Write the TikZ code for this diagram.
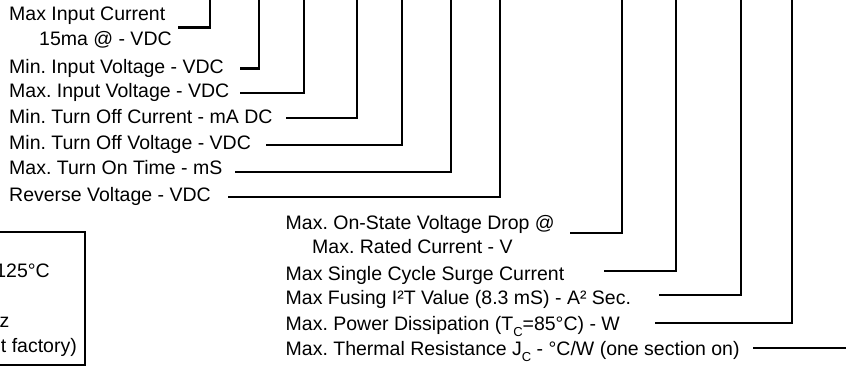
\documentclass[tikz,border=0pt]{standalone}
\usepackage{fontspec}
\setmainfont{Liberation Sans}
\frenchspacing
\newcommand\lowsub[1]{\raisebox{-6pt}{\fontsize{13}{13}\selectfont #1}}
\begin{document}
\begin{tikzpicture}[x=1pt,y=-1pt,
  lbl/.style={anchor=base west, inner sep=0pt, text=black, font=\fontsize{19.5}{19.5}\selectfont\frenchspacing},
  lead/.style={line width=2.7pt, draw=black},
  boxstyle/.style={draw=black, line width=2.2pt, inner sep=0pt}]
\useasboundingbox (0,0) rectangle (846,366);
\clip (0,0) rectangle (846,366);
% left labels
\node[lbl] (l1) at (9,20.7) {Max Input Current};
\node[lbl] (l1b) at (39,46) {15ma @ - VDC};
\node[lbl] (l2) at (9,73.3) {Min. Input Voltage - VDC};
\node[lbl] (l3) at (9,97.7) {Max. Input Voltage - VDC};
\node[lbl] (l4) at (9,124) {Min. Turn Off Current - mA DC};
\node[lbl] (l5) at (9,149.3) {Min. Turn Off Voltage - VDC};
\node[lbl] (l6) at (9,175) {Max. Turn On Time - mS};
\node[lbl] (l7) at (9,201.7) {Reverse Voltage - VDC};
% right labels
\node[lbl] (r1) at (285.5,229.3) {Max. On-State Voltage Drop @};
\node[lbl] (r1b) at (312,254) {Max. Rated Current - V};
\node[lbl] (r2) at (285.5,280) {Max Single Cycle Surge Current};
\node[lbl] (r3) at (285.5,304.7) {Max Fusing I²T Value (8.3 mS) - A² Sec.};
\node[lbl] (r4) at (285.5,330.7) {Max. Power Dissipation (T\lowsub{C}=85°C) - W};
\node[lbl] (r5) at (285.5,355.7) {Max. Thermal Resistance J\lowsub{C} - °C/W (one section on)};
% leader ends
\coordinate (s1) at (178,27.3);  \coordinate (t1) at (210,0);
\coordinate (s2) at (240,68.3);  \coordinate (t2) at (259,0);
\coordinate (s3) at (240,93);    \coordinate (t3) at (304,0);
\coordinate (s4) at (286,118);   \coordinate (t4) at (357,0);
\coordinate (s5) at (266,145);   \coordinate (t5) at (402,0);
\coordinate (s6) at (235,172);   \coordinate (t6) at (451,0);
\coordinate (s7) at (228,197);   \coordinate (t7) at (500,0);
\coordinate (s8) at (570,233);   \coordinate (t8) at (622,0);
\coordinate (s9) at (604,271);   \coordinate (t9) at (676,0);
\coordinate (s10) at (659,295);  \coordinate (t10) at (741,0);
\coordinate (s11) at (655,323);  \coordinate (t11) at (792,0);
\coordinate (s12) at (753,348);  \coordinate (t12) at (846,348);
\foreach \i in {1,...,11} {\draw[lead] (s\i) -| (t\i);}
\draw[lead] (s12) -- (t12);
% box (partly outside the picture)
\node[boxstyle, anchor=north east, minimum width=130pt, minimum height=133pt] (box) at (86,231) {};
\node[lbl, anchor=base east] (b1) at (50,277) {125°C};
\node[lbl, anchor=base east] (b2) at (9.5,327) {z};
\node[lbl, anchor=base east] (b3) at (77,352) {t factory)};
\end{tikzpicture}
\end{document}
